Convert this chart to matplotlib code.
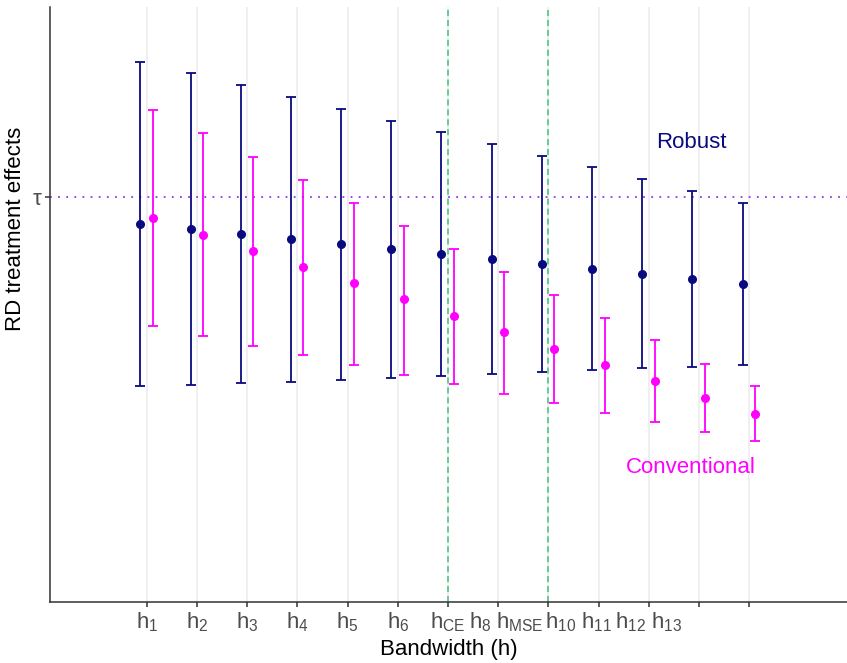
import numpy as np
import matplotlib
matplotlib.use('Agg')
import matplotlib.pyplot as plt

plt.rcParams['font.family'] = ['Liberation Sans', 'DejaVu Sans']
plt.rcParams['mathtext.fontset'] = 'custom'
plt.rcParams['mathtext.rm'] = 'Liberation Sans'

# bandwidth index and tick labels
bw = np.arange(1, 14)
bw_labels = ['h_1', 'h_2', 'h_3', 'h_4', 'h_5', 'h_6', 'h_{CE}', 'h_8', 'h_{MSE}',
             'h_{10}', 'h_{11}', 'h_{12}', 'h_{13}']
h_ce, h_mse = 7, 9
tau = 0.0

# robust bias-corrected estimates and CIs
rob_est = [-0.27, -0.32, -0.37, -0.42, -0.47, -0.52, -0.57, -0.62, -0.67, -0.72, -0.77, -0.82, -0.87]
rob_hi = [1.35, 1.24, 1.12, 1.00, 0.88, 0.76, 0.65, 0.53, 0.41, 0.30, 0.18, 0.06, -0.06]
rob_lo = [-1.89, -1.88, -1.86, -1.85, -1.83, -1.81, -1.79, -1.77, -1.75, -1.73, -1.71, -1.70, -1.68]

# conventional estimates and CIs
conv_est = [-0.21, -0.38, -0.54, -0.70, -0.86, -1.02, -1.19, -1.35, -1.52, -1.68, -1.84, -2.01, -2.17]
conv_hi = [0.87, 0.64, 0.40, 0.17, -0.06, -0.29, -0.52, -0.75, -0.98, -1.21, -1.43, -1.67, -1.89]
conv_lo = [-1.29, -1.39, -1.49, -1.58, -1.68, -1.78, -1.87, -1.97, -2.06, -2.16, -2.25, -2.35, -2.44]

navy = '#0a0a80'
magenta = '#ff00ff'

fig = plt.figure(figsize=(8.47, 6.63), dpi=100)
ax = fig.add_axes([50 / 847, 61 / 663, 797 / 847, 595 / 663])

for x in bw:
    ax.axvline(x, color='#ebebeb', lw=1.1, zorder=0)
ax.axhline(tau, color='#9933ee', lw=1.3, ls=(0, (1, 3.5)), zorder=1)
ax.axvline(h_ce, color='#3ec47a', lw=1.1, ls=(0, (4, 2.5)), zorder=1)
ax.axvline(h_mse, color='#3ec47a', lw=1.1, ls=(0, (4, 2.5)), zorder=1)

def draw_ci(xs, est, lo, hi, col):
    est = np.array(est)
    yerr = [est - np.array(lo), np.array(hi) - est]
    ax.errorbar(xs, est, yerr=yerr, fmt='o', color=col, ms=5.5, elinewidth=1.3,
                capsize=3.8, capthick=1.3, zorder=3)

draw_ci(bw - 0.13, rob_est, rob_lo, rob_hi, navy)
draw_ci(bw + 0.12, conv_est, conv_lo, conv_hi, magenta)

ax.text(11.84, 0.54, 'Robust', color=navy, fontsize=16, ha='center', va='center')
ax.text(11.83, -2.70, 'Conventional', color=magenta, fontsize=16, ha='center', va='center')

ax.set_xlim(-0.93, 14.95)
ax.set_ylim(-4.05, 1.90)

# tick marks at every bandwidth; first seven labels sit on their ticks,
# the rest are packed along the axis after h_CE
fmt = [r'$\mathregular{%s}$' % s for s in bw_labels]
ax.set_xticks(bw)
ax.set_xticklabels(fmt[:7] + [''] * 6)
extra_pos = [7.64, 8.43, 9.25, 9.95, 10.64, 11.35]
ax.set_xticks(extra_pos, minor=True)
ax.set_xticklabels(fmt[7:], minor=True)
ax.tick_params(axis='x', which='major', length=3.6, width=1.1, color='#333333', pad=2.5,
               labelsize=16, labelcolor='#4d4d4d')
ax.tick_params(axis='x', which='minor', length=0, pad=6.1, labelsize=16, labelcolor='#4d4d4d')

ax.set_yticks([tau])
ax.set_yticklabels(['τ'])
ax.tick_params(axis='y', length=3.6, width=1.1, color='#333333', pad=2.5,
               labelsize=16, labelcolor='#4d4d4d')

for side in ['top', 'right']:
    ax.spines[side].set_visible(False)
for side in ['left', 'bottom']:
    ax.spines[side].set_color('#333333')
    ax.spines[side].set_linewidth(1.1)

ax.set_xlabel('Bandwidth (h)', fontsize=16)
ax.xaxis.set_label_coords(0.5, -0.063)
ax.set_ylabel('RD treatment effects', fontsize=16)
ax.yaxis.set_label_coords(-0.030, 0.627)

fig.savefig('out.png', dpi=100)
